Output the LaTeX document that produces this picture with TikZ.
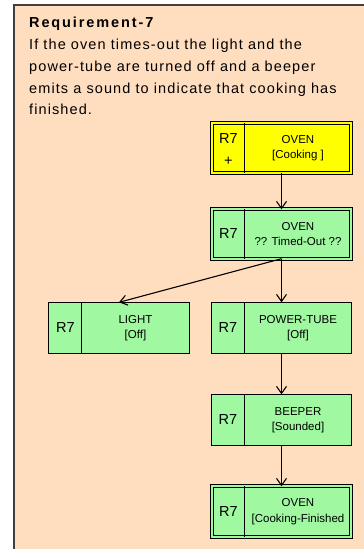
\documentclass[tikz,border=0pt]{standalone}
\usepackage{fontspec}
\setmainfont{Liberation Sans}
\newfontfamily\reqfont[LetterSpace=7.6]{Liberation Sans}
\newfontfamily\reqtitle[LetterSpace=13]{Liberation Sans}
\usetikzlibrary{arrows.meta}

\definecolor{reqbg}{RGB}{255,222,192}
\definecolor{stgreen}{RGB}{160,248,160}
\definecolor{styellow}{RGB}{255,255,0}

\tikzset{
  stbox/.style={fill=stgreen, inner sep=0pt, minimum width=140pt, minimum height=51pt},
  dblbox/.style={stbox, minimum width=139pt, minimum height=49pt},
  stline/.style={line width=1.1pt},
  dblline/.style={line width=0.8pt, double distance=2.2pt},
  tagtext/.style={font=\fontsize{14.5}{22}\selectfont, align=center, inner sep=0pt},
  sttext/.style={font=\fontsize{11.5}{15.5}\selectfont, align=center, inner sep=0pt},
  flow/.style={line width=1.1pt, -{Straight Barb[length=7pt,width=10pt]}}
}

\begin{document}
\begin{tikzpicture}[x=1pt, y=-1pt]
    \useasboundingbox (0,0) rectangle (364,549);
    % panel
    \fill[reqbg] (14,5) rectangle (364,549);
    \draw[line width=1.5pt, black!75] (14,549) -- (14,5) -- (364,5);
    \node[anchor=north west, inner sep=0pt, align=left,
      font=\reqfont\fontsize{14.5}{21.8}\selectfont] (reqtext) at (29,17)
      {{\reqtitle\bfseries Requirement-7}\\
       If the oven times-out the light and the\\
       power-tube are turned off and a beeper\\
       emits a sound to indicate that cooking has\\
       finished.};

    % states
    \node[dblbox, fill=styellow, minimum height=50pt] (cook) at (281.5,148) {};
    \node[dblbox] (timed) at (281.5,234) {};
    \node[stbox] (light) at (119,328) {};
    \node[stbox] (tube) at (281.5,328) {};
    \node[stbox] (beeper) at (281.5,420) {};
    \node[dblbox, minimum height=50pt] (finished) at (281.5,511.5) {};

    % borders and dividers
    \foreach \n in {light, tube, beeper}
        \draw[stline] (\n.north west) rectangle (\n.south east);
    \foreach \n/\c in {cook/styellow, timed/stgreen, finished/stgreen}
        \draw[dblline, double=\c] (\n.north west) rectangle (\n.south east);
    \foreach \n in {cook, timed, light, tube, beeper, finished}
        \draw[stline] ([xshift=33pt]\n.north west) -- ([xshift=33pt]\n.south west);

    % tags
    \node[tagtext] (cooktag) at ([xshift=16.5pt, yshift=-2pt]cook.west) {R7\\+};
    \node[tagtext] (timedtag) at ([xshift=16.5pt]timed.west) {R7};
    \node[tagtext] (lighttag) at ([xshift=16.5pt]light.west) {R7};
    \node[tagtext] (tubetag) at ([xshift=16.5pt]tube.west) {R7};
    \node[tagtext] (beepertag) at ([xshift=16.5pt]beeper.west) {R7};
    \node[tagtext] (finishedtag) at ([xshift=16.5pt]finished.west) {R7};

    % labels
    \node[sttext] (cooklbl) at ([xshift=16.5pt]cook.center) {OVEN\\{}[Cooking ]};
    \node[sttext] (timedlbl) at ([xshift=16.5pt]timed.center) {OVEN\\?? Timed-Out ??};
    \node[sttext] (lightlbl) at ([xshift=16.5pt]light.center) {LIGHT\\{}[Off]};
    \node[sttext] (tubelbl) at ([xshift=16.5pt]tube.center) {POWER-TUBE\\{}[Off]};
    \node[sttext] (beeperlbl) at ([xshift=16.5pt]beeper.center) {BEEPER\\{}[Sounded]};
    \node[sttext] (finishedlbl) at ([xshift=16.5pt]finished.center) {OVEN\\{}[Cooking-Finished};

    % transitions
    \draw[flow] (cook) -- (timed);
    \draw[flow] (timed.south) -- (light.north);
    \draw[flow] (timed) -- (tube);
    \draw[flow] (tube) -- (beeper);
    \draw[flow] (beeper) -- (finished);
\end{tikzpicture}
\end{document}
